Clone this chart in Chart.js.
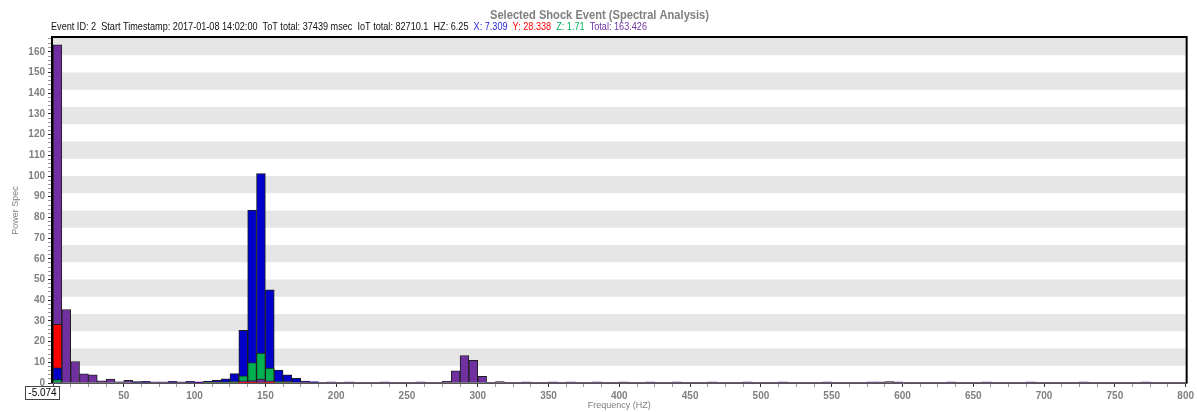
<!DOCTYPE html>
<html><head><meta charset="utf-8">
<script src="https://cdn.jsdelivr.net/npm/chart.js@4.4.1/dist/chart.umd.min.js"></script>
<style>html,body{margin:0;padding:0;background:#fff;overflow:hidden}#wrap{width:1197px;height:412px;position:relative}</style>
</head><body><div id="wrap"><canvas id="c"></canvas></div>
<script>
// ---------- data ----------
const chartTitle = 'Selected Shock Event (Spectral Analysis)';
const infoText = 'Event ID: 2  Start Timestamp: 2017-01-08 14:02:00  ToT total: 37439 msec  IoT total: 82710.1  HZ: 6.25';
const binWidthHz = 6.25;
const cursorLabel = '-5.074';
const xAxisTitle = 'Frequency (HZ)';
const yAxisTitle = 'Power Spec';

const totalValues = [
 163.426,35.5,10.4,4.4,4.0,1.1,1.9,0.6,1.3,0.7,
 0.8,0.4,0.4,0.8,0.4,0.8,0.4,0.5,0.4,0.6,
 0.7,1.1,1.2,1.9,1.1,0.6,0.8,0.5,0.4,0.6,
 0.3,0.4,0.2,0.4,0.3,0.2,0.3,0.4,0.2,0.3,
 0.2,0.4,0.2,0.3,0.8,5.9,13.3,10.9,3.2,0.3,
 0.7,0.3,0.2,0.4,0.2,0.3,0.4,0.2,0.4,0.3,
 0.2,0.4,0.3,0.2,0.4,0.3,0.2,0.4,0.3,0.2,
 0.4,0.3,0.2,0.3,0.4,0.3,0.2,0.3,0.4,0.2,
 0.3,0.3,0.4,0.2,0.3,0.3,0.2,0.4,0.3,0.3,
 0.2,0.3,0.4,0.4,0.7,0.4,0.3,0.2,0.3,0.3,
 0.2,0.4,0.3,0.3,0.2,0.4,0.3,0.3,0.2,0.3,
 0.4,0.3,0.2,0.3,0.3,0.2,0.4,0.3,0.3,0.2,
 0.3,0.3,0.2,0.4,0.3,0.3,0.2,0.3
];
const xValues = [
 7.309,0,0,0,0,0,0,0,0,0.1,
 0.1,0,0,0.2,0,0.2,0.3,0.8,1.3,2.0,
 4.5,25.5,83.5,101.2,45.0,6.3,4.0,2.2,0.9,0.4,
 0,0,0,0,0,0,0,0,0,0, 0,0,0,0,0,0,0,0,0,0,
 0,0,0,0,0,0,0,0,0,0, 0,0,0,0,0,0,0,0,0,0,
 0,0,0,0,0,0,0,0,0,0, 0,0,0,0,0,0,0,0,0,0,
 0,0,0,0,0,0,0,0,0,0, 0,0,0,0,0,0,0,0,0,0,
 0,0,0,0,0,0,0,0,0,0, 0,0,0,0,0,0,0,0
];
const yValues = [
 28.338,0,0,0,0,0,0,0,0,0,
 0,0,0,0,0,0,0,0,0,0,
 0,0.2,0.3,0.5,0.3,0,0,0,0,0,
 0,0,0,0,0,0,0,0,0,0, 0,0,0,0,0,0,0,0,0,0,
 0,0,0,0,0,0,0,0,0,0, 0,0,0,0,0,0,0,0,0,0,
 0,0,0,0,0,0,0,0,0,0, 0,0,0,0,0,0,0,0,0,0,
 0,0,0,0,0,0,0,0,0,0, 0,0,0,0,0,0,0,0,0,0,
 0,0,0,0,0,0,0,0,0,0, 0,0,0,0,0,0,0,0
];
const zValues = [
 1.71,0,0,0,0,0,0,0,0,0,
 0,0,0,0,0,0,0.5,0.2,0.2,0.3,
 0.4,3.5,9.9,14.4,7.2,0.4,0.2,0,0,0,
 0,0,0,0,0,0,0,0,0,0, 0,0,0,0,0,0,0,0,0,0,
 0,0,0,0,0,0,0,0,0,0, 0,0,0,0,0,0,0,0,0,0,
 0,0,0,0,0,0,0,0,0,0, 0,0,0,0,0,0,0,0,0,0,
 0,0,0,0,0,0,0,0,0,0, 0,0,0,0,0,0,0,0,0,0,
 0,0,0,0,0,0,0,0,0,0, 0,0,0,0,0,0,0,0
];

// ---------- styles ----------
const COL = { Total: '#7030A0', X: '#0000C8', Y: '#FF0000', Z: '#00B050' };
const series = [
  { name: 'Total', values: totalValues, color: COL.Total },
  { name: 'X', values: xValues, color: COL.X },
  { name: 'Y', values: yValues, color: COL.Y },
  { name: 'Z', values: zValues, color: COL.Z }
];

// build overlapped layers: in each bin the smaller value is drawn in front
const nBins = totalValues.length;
const layers = series.map(() => ({ data: [], colors: [] }));
for (let i = 0; i < nBins; i++) {
  const centre = i * binWidthHz + binWidthHz / 2;
  const entries = series.map(s => ({ v: s.values[i], c: s.color })).sort((a, b) => b.v - a.v);
  entries.forEach((e, k) => { layers[k].data.push({ x: centre, y: e.v }); layers[k].colors.push(e.c); });
}
const datasets = layers.map((L, k) => ({
  label: 'layer' + k,
  data: L.data,
  backgroundColor: L.colors,
  borderColor: '#1e1e1e',
  borderWidth: ctx => (ctx.raw && ctx.raw.y >= 0.5 ? 1 : 0),
  grouped: false,
  barPercentage: 1,
  categoryPercentage: 1,
  order: layers.length - k
}));

Chart.defaults.font.family = "'Liberation Sans', Arial, sans-serif";

function drawFitted(ctx, segments, x, y, targetWidth, font) {
  ctx.save();
  ctx.font = font;
  const full = segments.map(s => s[0]).join('');
  const w = ctx.measureText(full).width;
  ctx.translate(x, y);
  ctx.scale(targetWidth / w, 1);
  ctx.textBaseline = 'middle';
  ctx.textAlign = 'left';
  let cx = 0;
  for (const [t, c] of segments) { ctx.fillStyle = c; ctx.fillText(t, cx, 0); cx += ctx.measureText(t).width; }
  ctx.restore();
}

const decor = {
  id: 'decor',
  beforeDatasetsDraw(chart) {
    const { ctx, chartArea: a } = chart;
    const n = 20, h = (a.bottom - a.top) / n;
    ctx.save();
    ctx.fillStyle = '#E6E6E6';
    for (let k = 0; k < n; k += 2) ctx.fillRect(a.left, a.top + k * h, a.right - a.left, h);
    ctx.restore();
  },
  afterDatasetsDraw(chart) {
    const { ctx, chartArea: a } = chart;
    ctx.save();
    ctx.strokeStyle = '#000';
    ctx.lineWidth = 2;
    ctx.beginPath();
    ctx.moveTo(a.left - 1, a.bottom); ctx.lineTo(a.left - 1, a.top - 1);
    ctx.lineTo(a.right + 1, a.top - 1); ctx.lineTo(a.right + 1, a.bottom);
    ctx.stroke();
    ctx.lineWidth = 1;
    ctx.strokeStyle = '#555';
    ctx.beginPath(); ctx.moveTo(a.left - 2, a.bottom + 0.5); ctx.lineTo(a.right + 2, a.bottom + 0.5); ctx.stroke();
    ctx.restore();
  },
  afterDraw(chart) {
    const { ctx } = chart;
    drawFitted(ctx, [[chartTitle, '#808080']], 490, 16, 219, "bold 12px 'Liberation Sans'");
    drawFitted(ctx, [
      [infoText + '  ', '#111'],
      ['X: ' + xValues[0] + '  ', '#2323D8'],
      ['Y: ' + yValues[0] + '  ', '#FF0000'],
      ['Z: ' + zValues[0] + '  ', '#00B050'],
      ['Total: ' + totalValues[0], '#7030A0']
    ], 51, 27, 596, "11px 'Liberation Sans'");
    // cursor label box
    ctx.save();
    ctx.fillStyle = '#fff';
    ctx.fillRect(25, 386, 35, 13);
    ctx.strokeStyle = '#444'; ctx.lineWidth = 1;
    ctx.strokeRect(25.5, 386.5, 34, 13);
    ctx.fillStyle = '#000';
    ctx.font = "10px 'Liberation Sans'";
    ctx.textBaseline = 'middle'; ctx.textAlign = 'center';
    ctx.fillText(cursorLabel, 42.5, 393.5);
    ctx.restore();
  }
};

new Chart(document.getElementById('c'), {
  type: 'bar',
  data: { datasets },
  options: {
    responsive: true, maintainAspectRatio: false, animation: false, devicePixelRatio: 1,
    layout: { padding: { top: 38, right: 10, left: 0, bottom: 0 } },
    plugins: { legend: { display: false }, tooltip: { enabled: false }, title: { display: false } },
    scales: {
      x: {
        type: 'linear', min: 0, max: 800, offset: false,
        afterFit: s => { s.height = 29; },
        ticks: {
          stepSize: 12.5, autoSkip: false, maxRotation: 0, minRotation: 0,
          color: '#808080', font: { size: 10, weight: 'bold' }, padding: 3,
          callback: v => (v > 0 && v % 50 === 0 ? String(v) : '')
        },
        grid: { display: true, drawOnChartArea: false, offset: false, tickLength: 4,
          tickColor: c => (c.tick && c.tick.value % 50 === 0 ? '#333' : '#999') },
        border: { display: false },
        title: { display: true, text: xAxisTitle, color: '#808080', font: { size: 9 }, padding: { top: 0, bottom: 1 } }
      },
      y: {
        min: 0, max: 166.7,
        afterFit: s => { s.width = 53; },
        ticks: {
          stepSize: 2, autoSkip: false, color: '#808080', font: { size: 10, weight: 'bold' }, padding: 3,
          callback: v => (v % 10 === 0 ? String(v) : '')
        },
        grid: { display: true, drawOnChartArea: false, tickLength: 5,
          tickColor: c => (c.tick && c.tick.value % 10 === 0 ? '#333' : '#999') },
        border: { display: false },
        title: { display: true, text: yAxisTitle, color: '#808080', font: { size: 9 }, padding: { top: 10, bottom: 0 } }
      }
    }
  },
  plugins: [decor]
});
</script>
</body></html>
